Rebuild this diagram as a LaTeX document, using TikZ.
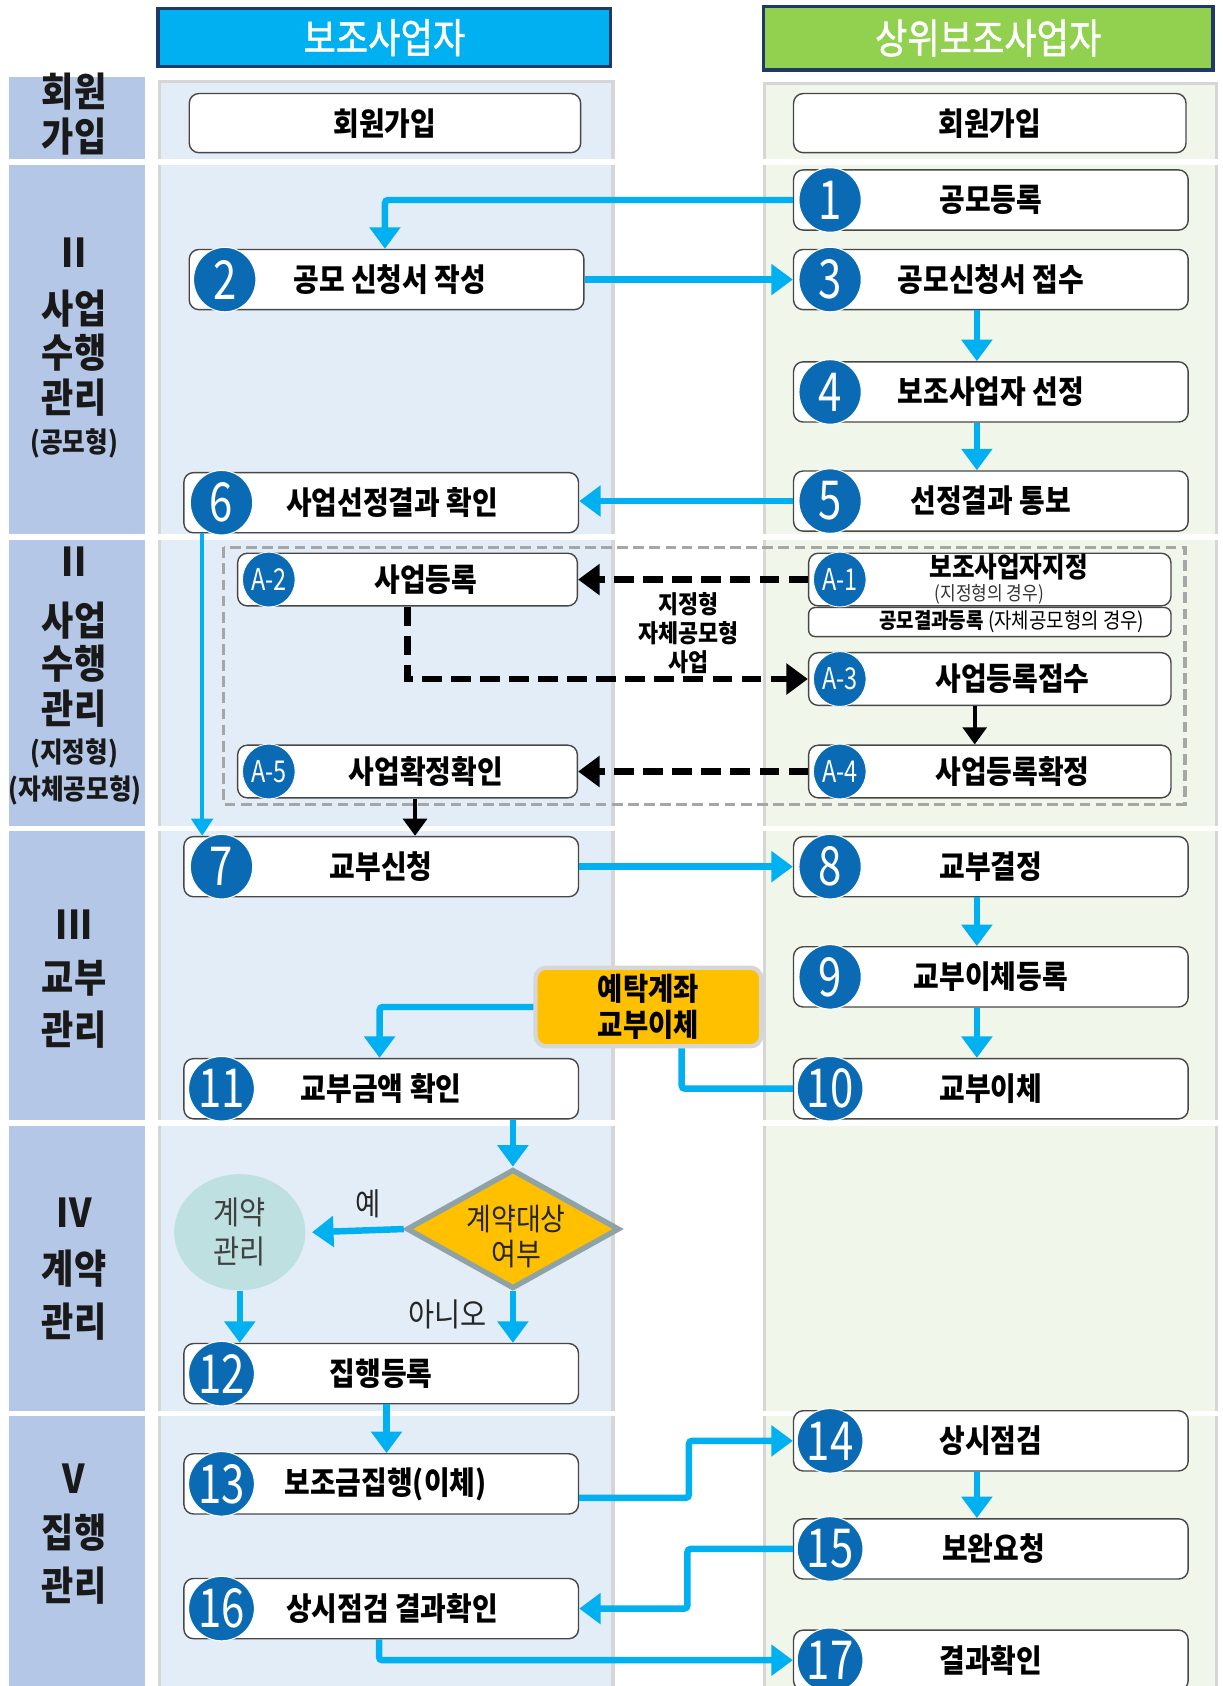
\documentclass[tikz,border=0pt]{standalone}
\usepackage{fontspec}
\setmainfont[FakeStretch=0.88]{Noto Sans CJK KR}
\newfontfamily\numfont[FakeStretch=0.78]{Noto Sans CJK KR}
\newfontfamily\hdrfont[FakeStretch=0.86,FakeBold=1.2]{Noto Sans CJK KR}
\usetikzlibrary{arrows.meta,shapes.geometric}
\definecolor{hdrblue}{HTML}{00B0F0}
\definecolor{hdrgreen}{HTML}{92D050}
\definecolor{navy}{HTML}{1F3A68}
\definecolor{lblcol}{HTML}{B4C7E7}
\definecolor{lpanel}{HTML}{E3EDF8}
\definecolor{rpanel}{HTML}{F0F6EA}
\definecolor{panelline}{HTML}{D6D6D6}
\definecolor{numblue}{HTML}{0A6AB3}
\definecolor{arrowblue}{HTML}{00B0F0}
\definecolor{orangefill}{HTML}{FFC000}
\definecolor{dmline}{HTML}{8FA3A7}
\definecolor{tealfill}{HTML}{BEE0E1}
\definecolor{dashgray}{HTML}{A6A6A6}
\newcommand\myfs[1]{\fontsize{#1}{#1}\selectfont}
\begin{document}
\begin{tikzpicture}[x=1pt,y=-1pt,
  box/.style={draw=black!72, line width=1.3pt, rounded corners=9pt, fill=white,
    minimum width=367pt, minimum height=56pt, inner sep=0pt,
    font=\bfseries\myfs{29.5}, text=black},
  abox/.style={box, minimum width=337pt, minimum height=49pt},
  num/.style={ellipse, fill=numblue, draw=white, line width=1pt, minimum width=58pt,
    minimum height=60pt, inner sep=0pt, text=white, font=\numfont\myfs{50}},
  anum/.style={ellipse, fill=numblue, draw=white, line width=.8pt, minimum width=49pt,
    minimum height=51pt, inner sep=0pt, text=white, font=\numfont\myfs{28}},
  barrow/.style={draw=arrowblue, line width=6pt, -{Triangle[length=20pt,width=28pt]}},
  tarrow/.style={draw=arrowblue, line width=3.5pt, -{Triangle[length=16pt,width=20pt]}},
  bline/.style={draw=arrowblue, line width=6pt},
  karrow/.style={draw=black, line width=6pt, dash pattern=on 18pt off 9pt,
    -{Triangle[length=20pt,width=28pt]}},
  ksolid/.style={draw=black, line width=4pt, -{Triangle[length=16pt,width=22pt]}},
  lbl/.style={font=\bfseries\myfs{37}, text=black!90, inner sep=0pt},
  sublbl/.style={font=\bfseries\myfs{26}, text=black!90, inner sep=0pt},
  hdr/.style={draw=navy, line width=3pt, text=white, font=\hdrfont\myfs{38}},
  plain/.style={font=\myfs{29}, text=black!85, inner sep=0pt}
]
\useasboundingbox (0,0) rectangle (1137,1568);
\clip (0,0) rectangle (1137,1568);
\fill[white] (0,0) rectangle (1137,1568);

% headers
\draw[hdr, fill=hdrblue] (147,8) rectangle node (hL) {보조사업자} (568,62);
\draw[hdr, fill=hdrgreen] (710,6) rectangle node (hR) {상위보조사업자} (1128,65);

% label column and panels
\fill[lblcol] (8,72) rectangle (135,1580);
\draw[fill=lpanel, draw=panelline, line width=3pt] (148,76) rectangle (570,1590);
\draw[fill=rpanel, draw=panelline, line width=3pt] (711,78) rectangle (1131,1590);
\foreach \yy in {150.5,499.5,770.5,1044.5,1314.5}
  \draw[white, line width=5pt] (0,\yy) -- (1137,\yy);

% section labels
\node[lbl] at (69,85) {회원};
\node[lbl] at (69,127) {가입};
\node[lbl] at (69,235) {II};
\node[lbl] at (69,287) {사업};
\node[lbl] at (69,328) {수행};
\node[lbl] at (69,370) {관리};
\node[sublbl] at (69,412) {(공모형)};
\node[lbl] at (69,522) {II};
\node[lbl] at (69,577) {사업};
\node[lbl] at (69,617) {수행};
\node[lbl] at (69,659) {관리};
\node[sublbl] at (69,701) {(지정형)};
\node[sublbl] at (70,735) {(자체공모형)};
\node[lbl] at (69,860) {III};
\node[lbl] at (69,910) {교부};
\node[lbl] at (69,958) {관리};
\node[lbl] at (69,1128) {IV};
\node[lbl] at (69,1180) {계약};
\node[lbl] at (69,1229) {관리};
\node[lbl] at (69,1375) {V};
\node[lbl] at (69,1425) {집행};
\node[lbl] at (69,1475) {관리};

% dashed region
\draw[dashgray, line width=3pt, dash pattern=on 10pt off 5pt] (208,509) rectangle (1102,748);

% boxes left
\node[box, minimum width=364pt, minimum height=55pt] (jL) at (358,114.5) {회원가입};
\node[box] (b2) at (359.5,260) {\hspace*{6pt}공모 신청서 작성};
\node[box] (b6) at (354.5,467.5) {\hspace*{20pt}사업선정결과 확인};
\node[box] (b7) at (354.5,806) {교부신청};
\node[box] (b11) at (354.5,1012.5) {교부금액 확인};
\node[box] (b12) at (354.5,1277.5) {집행등록};
\node[box] (b13) at (354.5,1380) {\hspace*{8pt}보조금집행(이체)};
\node[box] (b16) at (354.5,1496) {\hspace*{20pt}상시점검 결과확인};
% boxes right
\node[box, minimum width=365pt, minimum height=55pt] (jR) at (920.5,114.5) {회원가입};
\node[box] (b1) at (921.5,186) {공모등록};
\node[box] (b3) at (921.5,260) {공모신청서 접수};
\node[box] (b4) at (921.5,364.5) {보조사업자 선정};
\node[box] (b5) at (921.5,466) {선정결과 통보};
\node[box] (b8) at (921.5,806) {교부결정};
\node[box] (b9) at (921.5,908.5) {교부이체등록};
\node[box] (b10) at (921.5,1012.5) {교부이체};
\node[box] (b14) at (921.5,1340) {상시점검};
\node[box] (b15) at (921.5,1440.5) {\hspace*{5pt}보완요청};
\node[box] (b17) at (921.5,1544) {결과확인};
% A boxes
\node[abox, minimum width=316pt] (a2) at (379,539) {\hspace*{34pt}사업등록};
\node[abox, minimum width=316pt] (a5) at (379,717.5) {\hspace*{34pt}사업확정확인};
\node[abox] (a1) at (920.5,539) {};
\node[box, minimum width=337pt, minimum height=27pt, rounded corners=6pt] (gb) at (920.5,578.5) {};
\node[abox] (a3) at (920.5,631.5) {\hspace*{42pt}사업등록접수};
\node[abox] (a4) at (920.5,717.5) {\hspace*{42pt}사업등록확정};
\node[font=\bfseries\myfs{26}, inner sep=0pt] (a1t) at (938,527) {보조사업자지정};
\node[font=\myfs{18}, inner sep=0pt, text=black!80] (a1s) at (920,553) {(지정형의 경우)};
\node[font=\myfs{20}, inner sep=0pt] (gbt) at (941,578) {\textbf{공모결과등록} (자체공모형의 경우)};

% special shapes
\node[draw=panelline, line width=4pt, fill=orangefill, rounded corners=10pt,
  minimum width=210pt, minimum height=73pt, align=center, inner sep=0pt,
  font=\bfseries\fontsize{29}{34}\selectfont] (yt) at (603,936.5) {예탁계좌\\교부이체};
\node[diamond, draw=dmline, line width=5pt, fill=orangefill, minimum width=198pt,
  minimum height=111pt, inner sep=0pt] (dm) at (477,1143) {};
\node[align=center, inner sep=0pt, font=\fontsize{28.5}{33}\selectfont, text=black!85]
  (dmt) at (480,1150) {계약대상\\여부};
\node[ellipse, fill=tealfill, minimum width=122pt, minimum height=108pt, inner sep=0pt,
  align=center, font=\fontsize{30}{36}\selectfont, text=black!75] (ct) at (223,1146) {계약\\관리};

% middle label
\node[align=center, font=\bfseries\fontsize{23}{27}\selectfont, inner sep=0pt] (mid) at (640,589) {지정형\\자체공모형\\사업};

% connectors
\draw[barrow, rounded corners=3pt] (b1.west) -| ([xshift=-1.5pt]b2.north);
\draw[barrow] (b2.east) -- (b3.west);
\draw[barrow] ([xshift=-13pt]b3.south) -- ([xshift=-13pt]b4.north);
\draw[barrow] ([xshift=-13pt]b4.south) -- ([xshift=-13pt]b5.north);
\draw[barrow] (b5.west) -- (b5.west -| b6.east);
\draw[tarrow] ([xshift=-166.5pt]b6.south) -- ([xshift=-166.5pt]b7.north);
\draw[karrow] (a1.west) -- (a2.east);
\draw[karrow] (a2.south) |- (a3.west);
\draw[ksolid] ([xshift=-14pt]a3.south) -- ([xshift=-14pt]a4.north);
\draw[karrow] (a4.west) -- (a5.east);
\draw[ksolid] ([xshift=7pt]a5.south) -- ([xshift=7pt]a5.south |- b7.north);
\draw[barrow] (b7.east) -- (b8.west);
\draw[barrow] ([xshift=-13pt]b8.south) -- ([xshift=-13pt]b9.north);
\draw[barrow] ([xshift=-13pt]b9.south) -- ([xshift=-13pt]b10.north);
\draw[bline, rounded corners=3pt] (b10.west) -| ([xshift=31pt]yt.south);
\draw[barrow, rounded corners=3pt] (yt.west) -| ([xshift=-1.5pt]b11.north);
\draw[barrow] (b11.south -| dm.north) -- (dm.north);
\draw[barrow] (dm.west) -- ([xshift=6pt]ct.east);
\draw[barrow] (ct.south) -- (ct.south |- b12.north);
\draw[barrow] (dm.south) -- (dm.south |- b12.north);
\draw[barrow] ([xshift=5pt]b12.south) -- ([xshift=5pt]b13.north);
\draw[barrow, rounded corners=3pt] ([yshift=-13pt]b13.east) -- ++(102,0) |- (b14.west);
\draw[barrow] ([xshift=-13pt]b14.south) -- ([xshift=-13pt]b15.north);
\draw[barrow, rounded corners=3pt] (b15.west) -- ++(-98,0) |- (b16.east);
\draw[barrow, rounded corners=3pt] ([xshift=-2pt]b16.south) |- (b17.west);

\node[plain] (yes) at (342,1120) {예};
\node[plain, font=\myfs{30}] (no) at (416,1222) {아니오};

% number circles
\node[num] (n1) at (772,186) {1};
\node[num] (n2) at (209,260) {2};
\node[num] (n3) at (772,260) {3};
\node[num] (n4) at (772,364.5) {4};
\node[num] (n5) at (772,466) {5};
\node[num] (n6) at (206,467.5) {6};
\node[num] (n7) at (206,806) {7};
\node[num] (n8) at (772,806) {8};
\node[num] (n9) at (772,908.5) {9};
\node[num] (n10) at (772,1012.5) {10};
\node[num] (n11) at (206,1012.5) {11};
\node[num] (n12) at (206,1277.5) {12};
\node[num] (n13) at (206,1380) {13};
\node[num] (n14) at (772,1340) {14};
\node[num] (n15) at (772,1440.5) {15};
\node[num] (n16) at (206,1496) {16};
\node[num] (n17) at (772,1544) {17};
\node[anum] (na1) at (781,539) {A-1};
\node[anum] (na2) at (250,539) {A-2};
\node[anum] (na3) at (781,631.5) {A-3};
\node[anum] (na4) at (781,717.5) {A-4};
\node[anum] (na5) at (250,717.5) {A-5};
\end{tikzpicture}
\end{document}
